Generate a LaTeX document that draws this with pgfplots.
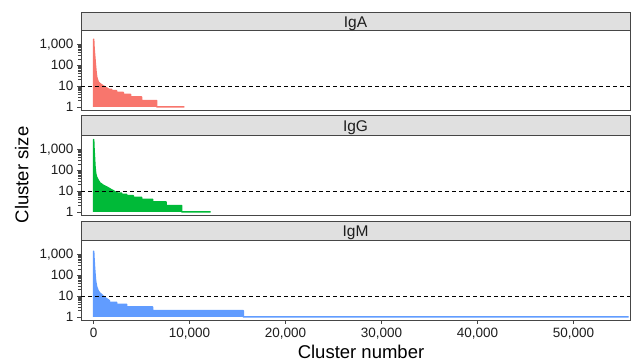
\documentclass[border=0pt]{standalone}
\usepackage{pgfplots}
\pgfplotsset{compat=1.18}
\usepackage{fontspec}
\setmainfont{Liberation Sans}
\definecolor{cA}{HTML}{F8766D}
\definecolor{cG}{HTML}{00BA38}
\definecolor{cM}{HTML}{619CFF}
\definecolor{stripgray}{RGB}{224,224,224}
\definecolor{framec}{RGB}{70,70,70}
\definecolor{txt}{RGB}{30,30,30}

\pgfplotsset{
  myfacet/.style={
    scale only axis,
    width=549pt, height=79.5pt,
    anchor=south west,
    xmin=-1320, xmax=55900,
    ymin=0.71, ymax=4700,
    ytick={1,10,100,1000},
    yticklabels={1,10,100,{1,000}},
    minor ytick={},
    scaled x ticks=false,
    tick align=outside,
    major tick length=4pt,
    xtick pos=bottom, ytick pos=left,
    axis line style={framec, line width=0.8pt},
    every tick/.style={framec, line width=0.8pt},
    /pgf/number format/assume math mode=true,
    every tick label/.append style={font=\fontsize{13.5}{14}\selectfont, text=txt},
    yticklabel style={inner sep=0pt, xshift=-3.5pt},
    xticklabel style={inner sep=0pt, yshift=-4pt, anchor=north},
    clip=true,
  },
}

\begin{document}
\begin{tikzpicture}[x=1pt,y=1pt]
\path[use as bounding box] (0,0) rectangle (632,361);

% ---------- IgA ----------
\begin{axis}[ymode=log, myfacet, xtick=\empty, at={(81pt,251pt)}]
\addplot[draw=cA, fill=cA, line width=1.5pt, line join=round] coordinates {
(0,1) (0,1800) (40,700) (80,400) (130,220) (170,125) (230,60) (310,28) (400,20)
(480,16) (600,14) (830,11.5) (1040,10) (1200,9) (1390,8) (1600,7)
(1880,7) (1880,6) (2400,6) (2400,5) (3090,5) (3090,4) (3850,4) (3850,3)
(5000,3) (5000,2) (6570,2) (6570,1) (9450,1)
};
\addplot[black, line width=0.8pt, dash pattern=on 4pt off 3pt] coordinates {(-1320,10) (55900,10)};
\end{axis}

% ---------- IgG ----------
\begin{axis}[ymode=log, myfacet, xtick=\empty, at={(81pt,146pt)}]
\addplot[draw=cG, fill=cG, line width=1.5pt, line join=round] coordinates {
(0,1) (0,3000) (40,1000) (90,400) (140,150) (210,70) (300,48) (480,33) (650,25)
(1000,19) (1500,14.5) (1800,12) (2050,10.5) (2250,9) (2500,8)
(2920,8) (2920,7) (3440,7) (3440,6) (4130,6) (4130,5) (5000,5) (5000,4)
(6150,4) (6150,3) (7540,3) (7540,2) (9180,2) (9180,1) (12200,1)
};
\addplot[black, line width=0.8pt, dash pattern=on 4pt off 3pt] coordinates {(-1320,10) (55900,10)};
\end{axis}

% ---------- IgM ----------
\begin{axis}[ymode=log, myfacet, at={(81pt,41pt)},
  xtick={0,10000,20000,30000,40000,50000},
  xticklabels={0,{10,000},{20,000},{30,000},{40,000},{50,000}}]
\addplot[draw=cM, fill=cM, line width=1.5pt, line join=round] coordinates {
(0,1) (0,1440) (40,600) (90,250) (135,127) (200,55) (310,28) (480,17.6) (650,14)
(1000,10) (1250,8) (1450,7) (1650,6)
(1650,5) (2400,5) (2400,4) (3440,4) (3440,3) (6150,3) (6150,2)
(15600,2) (15600,1) (55750,1)
};
\addplot[black, line width=0.8pt, dash pattern=on 4pt off 3pt] coordinates {(-1320,10) (55900,10)};
\end{axis}

% strips
\draw[framec, line width=0.8pt, fill=stripgray] (81,330.5) rectangle (630,349);
\draw[framec, line width=0.8pt, fill=stripgray] (81,225.5) rectangle (630,245.3);
\draw[framec, line width=0.8pt, fill=stripgray] (81,120.5) rectangle (630,140);
\node[anchor=base, inner sep=0pt, font=\fontsize{15.5}{16}\selectfont, text=txt] at (355.5,333.5) {IgA};
\node[anchor=base, inner sep=0pt, font=\fontsize{15.5}{16}\selectfont, text=txt] at (355.5,229) {IgG};
\node[anchor=base, inner sep=0pt, font=\fontsize{15.5}{16}\selectfont, text=txt] at (355.5,124) {IgM};

% axis titles
\node[anchor=base, inner sep=0pt, rotate=90, font=\fontsize{18.5}{19}\selectfont] at (28.3,186) {Cluster size};
\node[anchor=base, inner sep=0pt, font=\fontsize{18.5}{19}\selectfont] at (361,2.6) {Cluster number};
\end{tikzpicture}
\end{document}
